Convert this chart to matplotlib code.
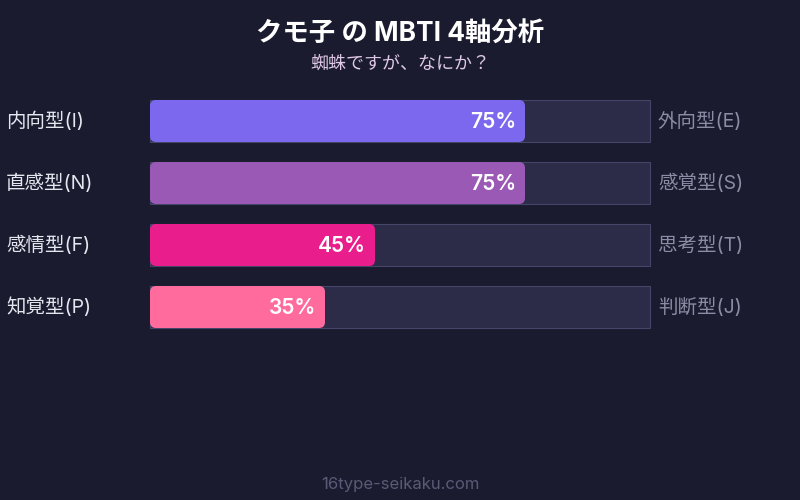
import matplotlib
matplotlib.use('Agg')
import matplotlib.pyplot as plt
from matplotlib.patches import FancyBboxPatch, Rectangle

plt.rcParams['font.family'] = ['Inter', 'Noto Sans CJK JP', 'DejaVu Sans']

# data
left_labels = ['内向型(I)', '直感型(N)', '感情型(F)', '知覚型(P)']
right_labels = ['外向型(E)', '感覚型(S)', '思考型(T)', '判断型(J)']
values = [75, 75, 45, 35]
colors = ['#7b68ee', '#9b59b6', '#e91e8c', '#ff6b9d']

title = 'クモ子 の MBTI 4軸分析'
subtitle = '蜘蛛ですが、なにか？'
footer = '16type-seikaku.com'

bg = '#1a1b2e'
fig = plt.figure(figsize=(8, 5), dpi=100, facecolor=bg)
ax = fig.add_axes([0, 0, 1, 1])
ax.set_xlim(0, 800)
ax.set_ylim(500, 0)
ax.axis('off')
ax.set_facecolor(bg)

x0, w, h = 150, 500, 42
tops = [100, 162, 224, 286]

for i in range(len(values)):
    y = tops[i]
    ax.add_patch(Rectangle((x0, y), w, h, facecolor='#2c2b48',
                           edgecolor='#45456a', linewidth=0.8))
    bw = w * values[i] / 100
    r = 6
    ax.add_patch(FancyBboxPatch((x0 + r, y + r), bw - 2 * r, h - 2 * r,
                                boxstyle='round,pad=%d' % r,
                                facecolor=colors[i], edgecolor='none',
                                mutation_aspect=1))
    ax.text(x0 + bw - 9, y + h / 2 + 1, f'{values[i]}%', ha='right', va='center',
            color='white', fontsize=15, fontweight='semibold')
    ax.text(6, y + h / 2, left_labels[i], ha='left', va='center',
            color='#e6e6f0', fontsize=14)
    ax.text(658, y + h / 2, right_labels[i], ha='left', va='center',
            color='#8c8ca6', fontsize=14)

ax.text(400, 35, title, ha='center', va='center', color='white',
        fontsize=19, fontweight='bold')
ax.text(400, 64, subtitle, ha='center', va='center', color='#e0c8e8',
        fontsize=13)
ax.text(400, 485, footer, ha='center', va='center', color='#5a5a78',
        fontsize=12)

fig.savefig('out.png', dpi=100, facecolor=bg)
